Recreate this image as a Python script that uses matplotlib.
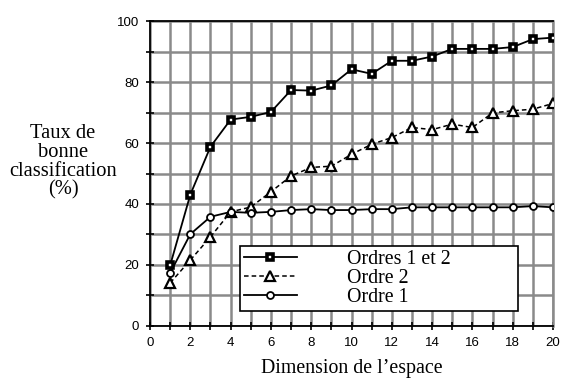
import matplotlib.pyplot as plt
from matplotlib.ticker import MultipleLocator

# Dimension de l'espace
dims = list(range(1, 21))

# Taux de bonne classification (%)
ordres_1_2 = [19.9, 43.1, 58.8, 67.7, 68.6, 70.2, 77.4, 77.2, 78.9, 84.2,
              82.7, 87.0, 87.0, 88.4, 90.9, 90.9, 90.9, 91.5, 94.1, 94.6]
ordre_2 = [14.1, 21.6, 29.2, 37.4, 39.0, 44.0, 49.2, 52.0, 52.4, 56.3,
           59.6, 61.8, 65.1, 64.4, 66.2, 65.1, 69.9, 70.6, 71.1, 73.0]
ordre_1 = [17.4, 30.1, 35.8, 37.4, 37.1, 37.4, 38.0, 38.3, 38.0, 38.0,
           38.3, 38.3, 38.9, 38.9, 38.9, 38.9, 38.9, 38.9, 39.3, 38.9]

serif = 'Liberation Serif'
sans = 'Liberation Sans'

fig = plt.figure(figsize=(5.62, 3.78), dpi=100)
ax = fig.add_axes([0.267, 0.138, 0.717, 0.806])

ax.plot(dims, ordres_1_2, color='black', lw=1.3, marker='s', ms=4.6,
        mfc='white', mec='black', mew=2.6, label='Ordres 1 et 2', zorder=5)
ax.plot(dims, ordre_2, color='black', lw=1.1, ls=(0, (3, 2)), marker='^',
        ms=7.5, mfc='white', mec='black', mew=1.6, label='Ordre 2', zorder=4)
ax.plot(dims, ordre_1, color='black', lw=1.3, marker='o', ms=5,
        mfc='white', mec='black', mew=1.3, label='Ordre 1', zorder=4)

ax.set_xlim(0, 20)
ax.set_ylim(0, 100)
ax.xaxis.set_major_locator(MultipleLocator(2))
ax.xaxis.set_minor_locator(MultipleLocator(1))
ax.yaxis.set_major_locator(MultipleLocator(20))
ax.yaxis.set_minor_locator(MultipleLocator(10))
ax.tick_params(which='both', direction='inout', length=6, width=1.2,
               labelsize=9.5, pad=5)
for lab in ax.get_xticklabels() + ax.get_yticklabels():
    lab.set_fontfamily(sans)

ax.grid(which='both', color='#8a8a8a', lw=1.8)
ax.set_axisbelow(True)
for side in ['left', 'bottom', 'top']:
    ax.spines[side].set_color('black')
    ax.spines[side].set_linewidth(1.3)
ax.spines['right'].set_color('#8a8a8a')
ax.spines['right'].set_linewidth(1.8)

ax.set_xlabel('Dimension de l\u2019espace', fontsize=14.3, family=serif, labelpad=7)
fig.text(0.112, 0.571, 'Taux de\nbonne\nclassification\n(%)', ha='center',
         va='center', fontsize=14.8, family=serif, linespacing=0.98)

leg = ax.legend(loc='lower left', bbox_to_anchor=(0.222, 0.05, 0.69, 0.24),
                mode='expand', prop={'family': serif, 'size': 14.4},
                frameon=True, fancybox=False, framealpha=1, edgecolor='black',
                handlelength=2.65, borderpad=0.2, labelspacing=0.0,
                handletextpad=2.5, borderaxespad=0)
leg.get_frame().set_linewidth(1.2)
leg.set_zorder(10)

fig.savefig('out.png', dpi=100)
